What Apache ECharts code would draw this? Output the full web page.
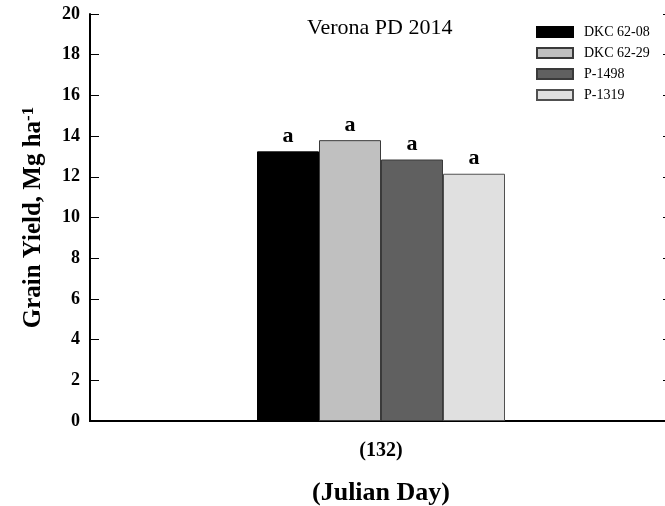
<!DOCTYPE html>
<html>
<head>
<meta charset="utf-8">
<script src="https://cdn.jsdelivr.net/npm/echarts@6/dist/echarts.min.js"></script>
<style>html,body{margin:0;padding:0;background:#fff}#c{width:665px;height:506px}</style>
</head>
<body>
<div id="c"></div>
<script>
var categories = ['(132)'];
var hybrids = ['DKC 62-08', 'DKC 62-29', 'P-1498', 'P-1319'];
var yieldDKC6208 = [13.25];
var yieldDKC6229 = [13.8];
var yieldP1498 = [12.85];
var yieldP1319 = [12.15];
var letters = ['a', 'a', 'a', 'a'];
var yTicks = [0, 2, 4, 6, 8, 10, 12, 14, 16, 18, 20];

var seriesValues = [yieldDKC6208, yieldDKC6229, yieldP1498, yieldP1319];
var colors = ['#000000', '#c0c0c0', '#606060', '#e0e0e0'];
var borders = ['#000000', '#3a3a3a', '#3a3a3a', '#505050'];
var serif = '"Liberation Serif", "Times New Roman", serif';

var chart = echarts.init(document.getElementById('c'), null, {renderer: 'canvas'});
var series = hybrids.map(function (h, i) {
  return {
    name: h,
    type: 'bar',
    data: seriesValues[i],
    barWidth: 62,
    barGap: '0%',
    itemStyle: {color: colors[i], borderColor: borders[i], borderWidth: 1},
    label: {
      show: true, position: 'top', distance: 4,
      formatter: letters[i],
      fontFamily: serif, fontWeight: 'bold', fontSize: 22, color: '#000'
    },
    xAxisIndex: 0, yAxisIndex: 0
  };
});

chart.setOption({
  animation: false,
  backgroundColor: '#fff',
  title: {
    text: 'Verona PD 2014',
    left: 307, top: 17, padding: 0,
    textStyle: {fontFamily: serif, fontWeight: 'normal', fontSize: 22, color: '#000'}
  },
  legend: {
    data: hybrids,
    orient: 'vertical',
    left: 536, top: 25, padding: 0,
    itemWidth: 36, itemHeight: 10, itemGap: 7,
    icon: 'rect',
    textStyle: {fontFamily: serif, fontSize: 14, lineHeight: 14, color: '#000', padding: [0, 0, 0, 6]}
  },
  grid: {left: 90, right: -7, top: 14, bottom: 85, containLabel: false, outerBoundsMode: 'none'},
  xAxis: [{
    type: 'category', data: categories, position: 'bottom',
    axisLine: {lineStyle: {color: '#000', width: 2}},
    axisTick: {alignWithLabel: true, inside: false, length: 6, lineStyle: {color: '#000', width: 1}},
    axisLabel: {fontFamily: serif, fontWeight: 'bold', fontSize: 20, color: '#000', margin: 20},
    name: '(Julian Day)', nameLocation: 'middle', nameGap: 59,
    nameTextStyle: {fontFamily: serif, fontWeight: 'bold', fontSize: 26, color: '#000'}
  }, {
    type: 'category', data: categories, position: 'top',
    axisLine: {lineStyle: {color: '#000', width: 2}},
    axisTick: {show: false}, axisLabel: {show: false}
  }],
  yAxis: [{
    type: 'value', min: yTicks[0], max: yTicks[yTicks.length - 1], interval: 2, position: 'left',
    axisLine: {show: true, lineStyle: {color: '#000', width: 2}},
    axisTick: {show: true, inside: true, length: 9, lineStyle: {color: '#000', width: 1}},
    axisLabel: {fontFamily: serif, fontWeight: 'bold', fontSize: 18, color: '#000', margin: 10},
    splitLine: {show: false},
    name: '{m|Grain Yield, Mg ha}{s|-1}', nameLocation: 'middle', nameGap: 43, nameRotate: 90,
    nameTextStyle: {
      fontFamily: serif, fontWeight: 'bold', fontSize: 25, color: '#000',
      rich: {
        m: {fontFamily: serif, fontWeight: 'bold', fontSize: 25, color: '#000'},
        s: {fontFamily: serif, fontWeight: 'bold', fontSize: 17, color: '#000', verticalAlign: 'top', padding: [0, 0, 10, 0]}
      }
    }
  }, {
    type: 'value', min: yTicks[0], max: yTicks[yTicks.length - 1], interval: 2, position: 'right',
    axisLine: {show: true, lineStyle: {color: '#000', width: 2}},
    axisTick: {show: true, inside: true, length: 9, lineStyle: {color: '#000', width: 1}},
    axisLabel: {show: false}, splitLine: {show: false}
  }],
  series: series
});
</script>
</body>
</html>
